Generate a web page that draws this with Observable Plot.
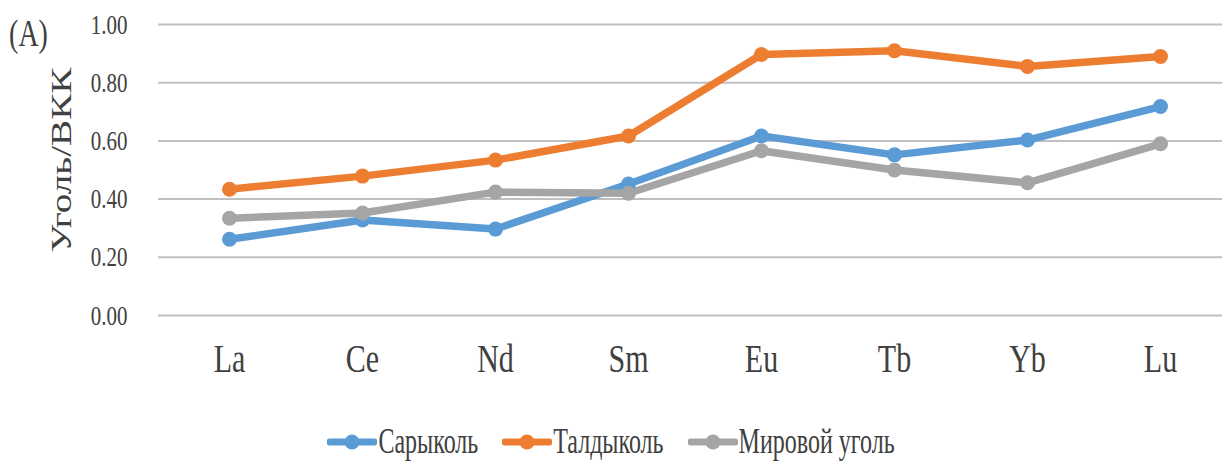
<!DOCTYPE html>
<html>
<head>
<meta charset="utf-8">
<script src="https://cdn.jsdelivr.net/npm/d3@7"></script>
<script src="https://cdn.jsdelivr.net/npm/@observablehq/plot@0.6"></script>
<style>
  html, body { margin: 0; padding: 0; background: #fff; }
  #chart { width: 1222px; position: relative; }
  .legend { display: flex; justify-content: center; align-items: center; height: 50px; margin-top: 22px; font-family: "Liberation Serif", serif; font-size: 24px; color: #404040; padding-right: 0px; box-sizing: border-box; }
  .item { display: flex; align-items: center; margin: 0 12px; }
  .item span { display: inline-block; transform: scaleY(1.45); margin-left: 1px; }
</style>
</head>
<body>
<div id="chart"></div>
<script>
const elements = ["La", "Ce", "Nd", "Sm", "Eu", "Tb", "Yb", "Lu"];
const seriesNames = ["Сарыколь", "Талдыколь", "Мировой уголь"];
const sarykol = [0.262, 0.328, 0.297, 0.452, 0.617, 0.552, 0.603, 0.718];
const taldykol = [0.434, 0.479, 0.534, 0.617, 0.897, 0.910, 0.856, 0.890];
const worldCoal = [0.334, 0.352, 0.424, 0.420, 0.566, 0.500, 0.456, 0.590];
const yTicks = [0, 0.2, 0.4, 0.6, 0.8, 1.0];
const colors = ["#5B9BD5", "#ED7D31", "#A5A5A5"];
const yLabel = "Уголь/ВКК";
const panelLabel = "(A)";

const seriesValues = [sarykol, taldykol, worldCoal];
const data = [];
seriesValues.forEach((vals, si) => vals.forEach((v, i) => data.push({series: seriesNames[si], element: elements[i], value: v})));

const plot = Plot.plot({
  width: 1222,
  height: 395,
  marginLeft: 158,
  marginRight: 0,
  marginTop: 24,
  marginBottom: 80,
  style: {fontFamily: "Liberation Serif, serif", color: "#404040", background: "#fff"},
  x: {type: "point", domain: elements, range: [227, 1161], padding: 0},
  y: {domain: [0, 1]},
  color: {domain: seriesNames, range: colors},
  marks: [
    Plot.ruleY(yTicks, {stroke: "#bfbfbf", strokeWidth: 2}),
    Plot.axisY(yTicks, {tickSize: 0, tickPadding: 31, tickFormat: d3.format(".2f"), fontSize: 21, label: null}),
    Plot.axisX({tickSize: 0, tickPadding: 32, fontSize: 30, label: null}),
    Plot.line(data, {x: "element", y: "value", z: "series", stroke: "series", strokeWidth: 7.5, strokeLinejoin: "round", strokeLinecap: "round"}),
    Plot.dot(data, {x: "element", y: "value", fill: "series", r: 7.5}),
    Plot.text([yLabel], {frameAnchor: "left", textAnchor: "middle", rotate: -90, dx: -97, dy: -10, fontSize: 29, fill: "#404040"}),
    Plot.text([panelLabel], {frameAnchor: "top-left", textAnchor: "middle", lineAnchor: "middle", dx: -130, dy: 9, fontSize: 28, fill: "#404040"})
  ]
});

document.getElementById("chart").appendChild(plot);

// vertical stretch of text, matching the reference's tall glyphs
const s = 1.35;
plot.querySelectorAll("text").forEach(t => {
  const b = t.getBBox();
  const cx = b.x + b.width / 2, cy = b.y + b.height / 2;
  const tr = t.getAttribute("transform") || "";
  const sc = /rotate/.test(tr) ? `scale(${s},1)` : `scale(1,${s})`;
  t.setAttribute("transform", `${tr} translate(${cx},${cy}) ${sc} translate(${-cx},${-cy})`);
});

const legend = document.createElement("div");
legend.className = "legend";
seriesNames.forEach((name, i) => {
  const item = document.createElement("div");
  item.className = "item";
  item.innerHTML = `<svg width="50" height="22"><line x1="3" x2="47" y1="11" y2="11" stroke="${colors[i]}" stroke-width="7" stroke-linecap="round"/><circle cx="25" cy="11" r="7.5" fill="${colors[i]}"/></svg><span>${name}</span>`;
  legend.appendChild(item);
});
document.getElementById("chart").appendChild(legend);
</script>
</body>
</html>
